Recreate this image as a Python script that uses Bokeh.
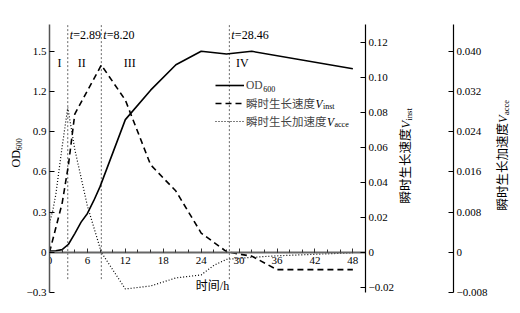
import math
from bokeh.plotting import figure
from bokeh.layouts import row
from bokeh.models import Range1d, LinearAxis, FixedTicker, Label, Legend, LegendItem
from bokeh.embed import file_html
from bokeh.resources import INLINE

# ---------------- data ----------------
time_od = [0, 1, 2, 3, 4, 5, 6, 7, 8, 12, 16, 20, 24, 28, 32, 48]
od600 = [0.01, 0.012, 0.02, 0.06, 0.14, 0.225, 0.29, 0.385, 0.49, 0.99, 1.21, 1.40, 1.50, 1.48, 1.50, 1.37]

time_inst = [0, 1, 2, 3, 4, 8.2, 12, 16, 20, 24, 28, 30, 32, 36, 40, 44, 48]
v_inst = [0, 0.014, 0.028, 0.05, 0.079, 0.107, 0.087, 0.050, 0.035, 0.011, 0.0004, -0.001, -0.0022,
          -0.0099, -0.0099, -0.0099, -0.0099]

time_acce = [0, 0.5, 1, 2, 2.89, 4, 6, 8.2, 12, 16, 20, 24, 26, 28, 32, 36, 40, 44, 48]
v_acce = [0.0058, 0.0082, 0.0115, 0.021, 0.0288, 0.0205, 0.0092, 0.0, -0.0073, -0.0067, -0.0051,
          -0.0045, -0.0026, -0.0014, -0.0010, -0.0007, -0.0005, -0.0003, -0.0001]

boundaries = [2.89, 8.20, 28.46]
phase_labels = ["I", "II", "III", "IV"]

x_ticks = [0, 6, 12, 18, 24, 30, 36, 42, 48]
od_ticks = [-0.3, 0, 0.3, 0.6, 0.9, 1.2, 1.5]
od_tick_labels = ["\u22120.3", "0", "0.3", "0.6", "0.9", "1.2", "1.5"]
inst_ticks = [-0.02, 0, 0.02, 0.04, 0.06, 0.08, 0.10, 0.12]
inst_tick_labels = ["\u22120.02", "0", "0.02", "0.04", "0.06", "0.08", "0.10", "0.12"]
acce_ticks = [-0.008, 0, 0.008, 0.016, 0.024, 0.032, 0.040]
acce_tick_labels = ["\u22120.008", "0", "0.008", "0.016", "0.024", "0.032", "0.040"]

legend_main = ["OD", "瞬时生长速度", "瞬时生长加速度"]
legend_sub = ["600", "inst", "acce"]

# ---------------- layout / style ----------------
SERIF = "'Liberation Serif', 'Noto Sans CJK SC'"
PHASE_X = [1.6, 5.1, 12.7, 30.5]
H = 312
TOP, BOTTOM = 24, 20
FRAME_BOTTOM = H - BOTTOM          # page y of frame bottom
W_L, W_A, W_B, W_C = 23, 374, 93, 28
A_LEFT = 24                        # A frame starts at page x 47
A_RIGHT = 32
B_RIGHT = 36
X0_L, X0_A, X0_B, X0_C = 0, W_L, W_L + W_A, W_L + W_A + W_B
A_FRAME_LEFT = X0_A + A_LEFT

INST_RANGE = (-0.02297, 0.13017)
ACCE_RANGE = (-0.008, 0.04533)

common = dict(height=H, output_backend="svg", toolbar_location=None,
              min_border_top=TOP, min_border_bottom=BOTTOM)

tick_font = dict(major_label_text_font=SERIF, major_label_text_font_size="11px",
                 major_label_text_color="black")


def txt(fig, frame_left, x, y, text, size=12, style="normal", angle=0, align="left",
        baseline="middle", units="screen", x_offset=0):
    if units == "screen":
        x, y = x - frame_left, FRAME_BOTTOM - y
    fig.add_layout(Label(x=x, y=y, x_units=units, y_units=units, text=text, text_font=SERIF,
                         text_font_size=f"{size}px", text_font_style=style, angle=angle,
                         text_align=align, text_baseline=baseline, text_color="black",
                         x_offset=x_offset))


A = math.pi / 2

# ---------- left strip: OD600 title ----------
pl = figure(width=W_L, x_range=Range1d(0, 1), y_range=Range1d(0, 1), x_axis_location=None,
            y_axis_location=None, min_border_left=0, min_border_right=0, **common)
pl.outline_line_color = None
pl.grid.visible = False
txt(pl, X0_L, 15, 167, "OD", size=12, angle=A)
txt(pl, X0_L, 18, 167 - 17.3, "600", size=8, angle=A)

# ---------- main plot ----------
p = figure(width=W_A, x_range=Range1d(0, 50), y_range=Range1d(-0.3, 1.7),
           min_border_left=A_LEFT, min_border_right=A_RIGHT, **common)
p.outline_line_color = None
p.grid.visible = False
p.extra_y_ranges = {"inst": Range1d(*INST_RANGE), "acce": Range1d(*ACCE_RANGE)}

xa = p.xaxis[0]
xa.ticker = FixedTicker(ticks=x_ticks, minor_ticks=list(range(0, 51, 2)))
xa.fixed_location = 0
xa.axis_line_color = "#666666"
xa.axis_line_width = 2
xa.major_tick_in = 4
xa.major_tick_out = 0
xa.minor_tick_in = 3
xa.minor_tick_out = 0
xa.major_tick_line_color = "#333333"
xa.minor_tick_line_color = "#333333"
xa.major_label_standoff = 5
for k, v in tick_font.items():
    setattr(xa, k, v)

ya = p.yaxis[0]
ya.ticker = FixedTicker(ticks=od_ticks)
ya.major_label_overrides = {t: s for t, s in zip(od_ticks, od_tick_labels)}
ya.axis_line_color = "#555555"
ya.axis_line_width = 1.5
ya.major_tick_in = 5
ya.major_tick_out = 0
ya.minor_tick_in = 0
ya.minor_tick_out = 0
ya.major_label_standoff = 3
for k, v in tick_font.items():
    setattr(ya, k, v)

ax_inst = LinearAxis(y_range_name="inst", ticker=FixedTicker(ticks=inst_ticks),
                     major_label_overrides={t: s for t, s in zip(inst_ticks, inst_tick_labels)},
                     major_tick_in=5, major_tick_out=0, minor_tick_in=0, minor_tick_out=0,
                     major_label_standoff=3, axis_line_width=1.2, **tick_font)
p.add_layout(ax_inst, "right")

p.segment(x0=boundaries, y0=-0.2, x1=boundaries, y1=1.72, line_color="#444444",
          line_width=0.8, line_dash="2 2")

r_od = p.line(time_od, od600, line_color="black", line_width=1.6)
r_inst = p.line(time_inst, v_inst, y_range_name="inst", line_color="black", line_width=1.6,
                line_dash="6 4")
r_acce = p.line(time_acce, v_acce, y_range_name="acce", line_color="black", line_width=1.2,
                line_dash="1 2")

for b in boundaries:
    txt(p, A_FRAME_LEFT, b, 1.62, "t", size=12, style="italic", units="data", x_offset=2)
    txt(p, A_FRAME_LEFT, b, 1.62, f"={b:.2f}", size=12, units="data", x_offset=5.5)

for xp, lab in zip(PHASE_X, phase_labels):
    txt(p, A_FRAME_LEFT, xp, 1.41, lab, size=12, align="center", units="data")

legend = Legend(items=[LegendItem(label=legend_main[0], renderers=[r_od]),
                       LegendItem(label=legend_main[1], renderers=[r_inst]),
                       LegendItem(label=legend_main[2], renderers=[r_acce])],
                location=(213 - A_FRAME_LEFT, FRAME_BOTTOM - 130), orientation="vertical",
                glyph_width=29, glyph_height=18, label_height=18, spacing=0, padding=0,
                margin=0, label_standoff=2, label_text_font=SERIF,
                label_text_font_size="11.5px", border_line_color=None,
                background_fill_alpha=0)
p.add_layout(legend)

LEG_TEXT_X = 244
row_y = [85, 103, 121]
txt(p, A_FRAME_LEFT, LEG_TEXT_X + 16.8, row_y[0] + 3, legend_sub[0], size=8)
for i, ncjk in ((1, 6), (2, 7)):
    vx = LEG_TEXT_X + 11.5 * ncjk
    txt(p, A_FRAME_LEFT, vx, row_y[i], "V", size=11.5, style="italic")
    txt(p, A_FRAME_LEFT, vx + 7.5, row_y[i] + 3, legend_sub[i], size=8)

txt(p, A_FRAME_LEFT, 210, 285, "时间/h", size=12, align="center")

# ---------- strip B: Vinst title + Vacce axis ----------
pb = figure(width=W_B, x_range=Range1d(0, 1), y_range=Range1d(*ACCE_RANGE),
            x_axis_location=None, y_axis_location=None, min_border_left=0,
            min_border_right=B_RIGHT, **common)
pb.outline_line_color = None
pb.grid.visible = False
ax_acce = LinearAxis(ticker=FixedTicker(ticks=acce_ticks),
                     major_label_overrides={t: s for t, s in zip(acce_ticks, acce_tick_labels)},
                     major_tick_in=5, major_tick_out=0, minor_tick_in=0, minor_tick_out=0,
                     major_label_standoff=3, axis_line_width=1.2, **tick_font)
pb.add_layout(ax_acce, "right")
txt(pb, X0_B, 405, 203, "瞬时生长速度", size=12.5, angle=A)
txt(pb, X0_B, 405, 203 - 75, "V", size=12.5, angle=A, style="italic")
txt(pb, X0_B, 408.5, 203 - 83, "inst", size=8.5, angle=A)

# ---------- strip C: Vacce title ----------
pc = figure(width=W_C, x_range=Range1d(0, 1), y_range=Range1d(0, 1), x_axis_location=None,
            y_axis_location=None, min_border_left=0, min_border_right=0, **common)
pc.outline_line_color = None
pc.grid.visible = False
txt(pc, X0_C, 502, 210, "瞬时生长加速度", size=12.5, angle=A)
txt(pc, X0_C, 502, 210 - 87.5, "V", size=12.5, angle=A, style="italic")
txt(pc, X0_C, 505.5, 210 - 95.5, "acce", size=8.5, angle=A)

layout = row(pl, p, pb, pc)
open("out.html", "w").write(file_html(layout, INLINE))
